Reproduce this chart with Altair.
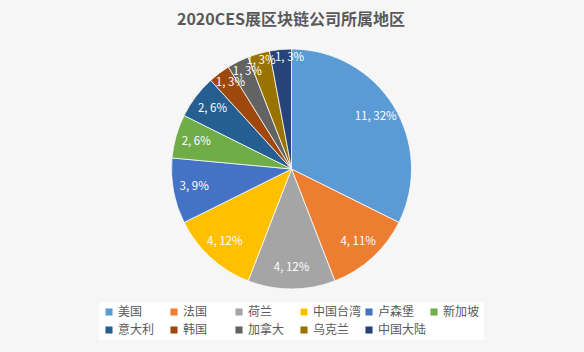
import altair as alt
import pandas as pd

title_text = ["2020CES展区块链公司所属地区"]
categories = ["美国", "法国", "荷兰", "中国台湾", "卢森堡", "新加坡", "意大利", "韩国", "加拿大", "乌克兰", "中国大陆"]
counts = [11, 4, 4, 4, 3, 2, 2, 1, 1, 1, 1]
pct_labels = ["32%", "11%", "12%", "12%", "9%", "6%", "6%", "3%", "3%", "3%", "3%"]
colors = ["#5B9BD5", "#ED7D31", "#A5A5A5", "#FFC000", "#4472C4", "#70AD47",
          "#255E91", "#9E480E", "#636363", "#997300", "#264478"]

df = pd.DataFrame({
    "region": categories,
    "count": counts,
    "pct": pct_labels,
    "idx": list(range(len(categories))),
})
df["label"] = df["count"].astype(str) + ", " + df["pct"]

FONT = "Noto Sans CJK SC"
CX, CY, R = 291.5, 169, 120

# label placement groups (best-fit style nudges for the crowded small slices)
groups = {
    "in": dict(regions=categories[:7], r=99, dx=0, dy=0),
    "a": dict(regions=["韩国", "加拿大"], r=108, dx=4, dy=0),
    "b": dict(regions=["乌克兰"], r=108, dx=-1, dy=-4),
    "c": dict(regions=["中国大陆"], r=108, dx=8, dy=-3),
}
for g, spec in groups.items():
    df["lab_" + g] = [l if reg in spec["regions"] else "" for l, reg in zip(df["label"], df["region"])]

base = alt.Chart(df).encode(
    theta=alt.Theta("count:Q", stack=True),
    order=alt.Order("idx:Q"),
)

pie = base.mark_arc(stroke="white", strokeWidth=0.75).encode(
    x=alt.value(CX),
    y=alt.value(CY),
    radius=alt.value(R),
    color=alt.Color(
        "region:N",
        scale=alt.Scale(domain=categories, range=colors),
        sort=categories,
        legend=alt.Legend(
            title=None,
            orient="none",
            legendX=99,
            legendY=302,
            columns=6,
            direction="horizontal",
            symbolType="square",
            symbolSize=50,
            symbolStrokeWidth=0,
            labelFont=FONT,
            labelFontSize=12,
            labelColor="#595959",
            labelOffset=3,
            columnPadding=1,
            rowPadding=6,
            gridAlign="all",
            labelLimit=60,
            padding=4,
            fillColor="white",
        ),
    ),
)

layers = [pie]
for g, spec in groups.items():
    layers.append(
        base.mark_text(font=FONT, fontSize=11.5, color="white", dx=spec["dx"], dy=spec["dy"]).encode(
            x=alt.value(CX),
            y=alt.value(CY),
            radius=alt.value(spec["r"]),
            text=alt.Text("lab_" + g + ":N"),
        )
    )

title = alt.Chart(pd.DataFrame({"t": title_text})).mark_text(
    font=FONT, fontSize=16, fontWeight="bold", color="#595959", baseline="middle"
).encode(x=alt.value(291), y=alt.value(20), text="t:N")
layers.append(title)

chart = alt.layer(*layers).properties(
    width=584,
    height=352,
    padding=0,
    background="#f6f6f6",
    autosize=alt.AutoSizeParams(type="none"),
).configure_view(stroke=None)

chart.save("out.html", embed_options={"renderer": "svg", "actions": False})
